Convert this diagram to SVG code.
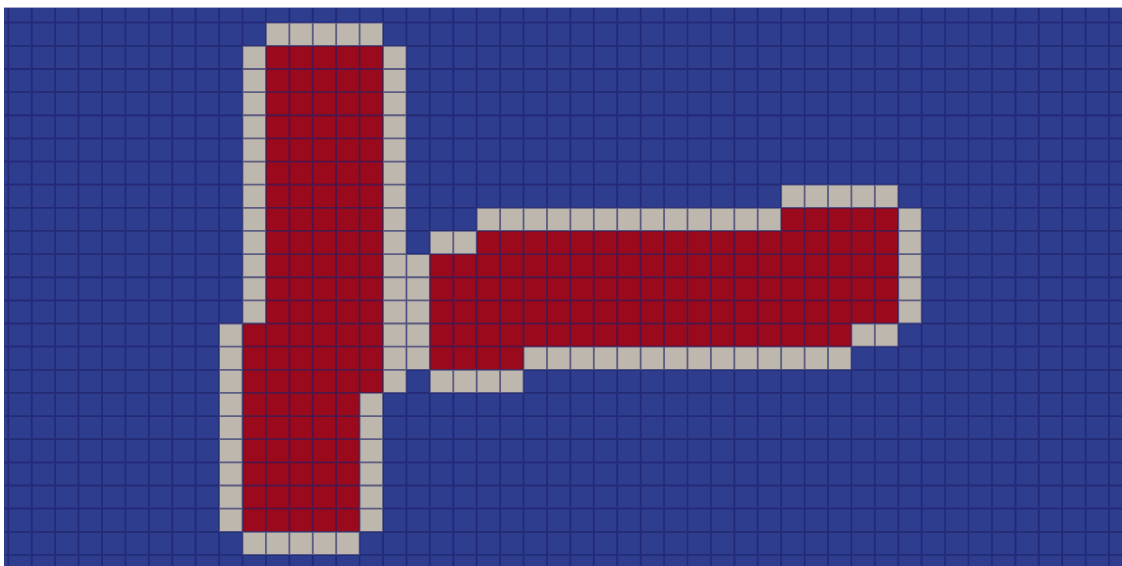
<svg xmlns="http://www.w3.org/2000/svg" width="1122" height="566" viewBox="0 0 1122 566">
  <defs>
    <style>
      .bg { fill: #2f3d8f; }
      .solid { fill: #9b0a1c; }
      .border { fill: #bdb7ad; }
      .grid { fill: none; stroke: #1a2068; stroke-opacity: 0.6; stroke-width: 1.8; vector-effect: non-scaling-stroke; }
    </style>
    <filter id="soft" x="-0.05" y="-0.05" width="1.1" height="1.1">
      <feGaussianBlur stdDeviation="0.03"/>
    </filter>
    <clipPath id="frame">
      <rect x="4" y="7" width="1118" height="559"/>
    </clipPath>
  </defs>
  <rect x="0" y="0" width="1122" height="566" fill="#ffffff"/>
  <g clip-path="url(#frame)">
    <rect class="bg" x="4" y="7" width="1118" height="559"/>
    <g transform="translate(8.3,-0.44) scale(23.42,23.14)">
      <g id="vertical-bar">
        <polygon class="solid" points="11,2 16,2 16,17 15,17 15,23 10,23 10,14 11,14"/>
        <rect class="border" x="11" y="1" width="5" height="1"/>
        <rect class="border" x="10" y="2" width="1" height="12"/>
        <rect class="border" x="9" y="14" width="1" height="9"/>
        <rect class="border" x="10" y="23" width="5" height="1"/>
        <rect class="border" x="16" y="2" width="1" height="15"/>
        <rect class="border" x="15" y="17" width="1" height="6"/>
        <rect class="border" x="17" y="11" width="1" height="5"/>
      </g>
      <g id="horizontal-bar">
        <polygon class="solid" points="33,9 38,9 38,14 36,14 36,15 22,15 22,16 18,16 18,11 20,11 20,10 33,10"/>
        <rect class="border" x="33" y="8" width="5" height="1"/>
        <rect class="border" x="20" y="9" width="13" height="1"/>
        <rect class="border" x="18" y="10" width="2" height="1"/>
        <rect class="border" x="38" y="9" width="1" height="5"/>
        <rect class="border" x="36" y="14" width="2" height="1"/>
        <rect class="border" x="22" y="15" width="14" height="1"/>
        <rect class="border" x="18" y="16" width="4" height="1"/>
      </g>
      <path id="grid-lines" class="grid" filter="url(#soft)" d="M0,0V25 M1,0V25 M2,0V25 M3,0V25 M4,0V25 M5,0V25 M6,0V25 M7,0V25 M8,0V25 M9,0V25 M10,0V25 M11,0V25 M12,0V25 M13,0V25 M14,0V25 M15,0V25 M16,0V25 M17,0V25 M18,0V25 M19,0V25 M20,0V25 M21,0V25 M22,0V25 M23,0V25 M24,0V25 M25,0V25 M26,0V25 M27,0V25 M28,0V25 M29,0V25 M30,0V25 M31,0V25 M32,0V25 M33,0V25 M34,0V25 M35,0V25 M36,0V25 M37,0V25 M38,0V25 M39,0V25 M40,0V25 M41,0V25 M42,0V25 M43,0V25 M44,0V25 M45,0V25 M46,0V25 M47,0V25 M-1,1H48 M-1,2H48 M-1,3H48 M-1,4H48 M-1,5H48 M-1,6H48 M-1,7H48 M-1,8H48 M-1,9H48 M-1,10H48 M-1,11H48 M-1,12H48 M-1,13H48 M-1,14H48 M-1,15H48 M-1,16H48 M-1,17H48 M-1,18H48 M-1,19H48 M-1,20H48 M-1,21H48 M-1,22H48 M-1,23H48 M-1,24H48"/>
    </g>
  </g>
  <line x1="4" y1="7.5" x2="1122" y2="7.5" stroke="#a9abcf" stroke-width="1"/>
</svg>
